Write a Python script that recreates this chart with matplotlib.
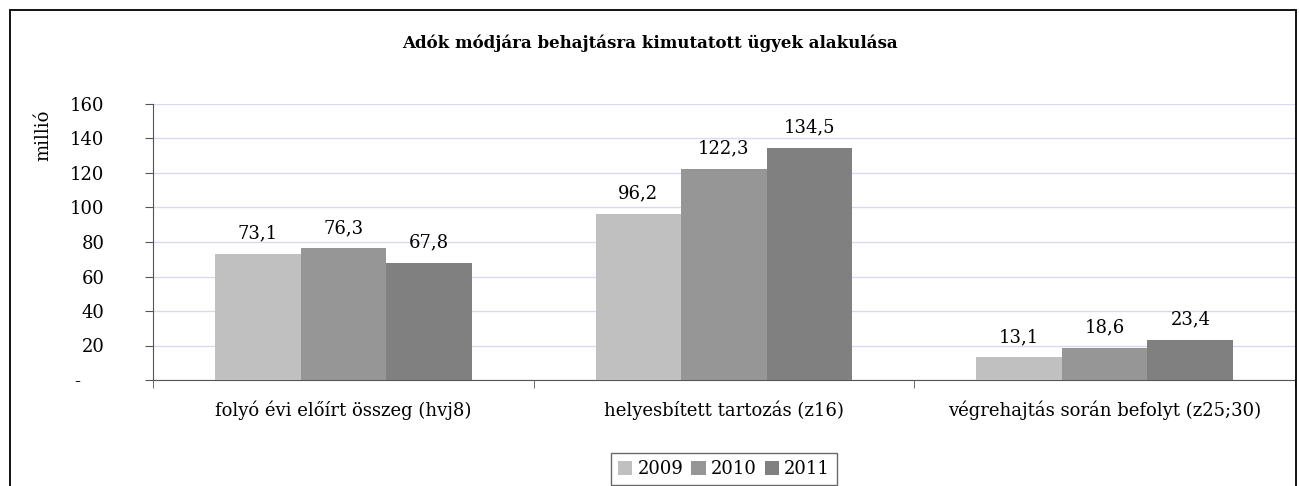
import matplotlib
matplotlib.use("Agg")
import matplotlib.pyplot as plt
import numpy as np
from matplotlib.patches import Rectangle

categories = ["folyó évi előírt összeg (hvj8)", "helyesbített tartozás (z16)", "végrehajtás során befolyt (z25;30)"]
years = ["2009", "2010", "2011"]
v2009 = [73.1, 96.2, 13.1]
v2010 = [76.3, 122.3, 18.6]
v2011 = [67.8, 134.5, 23.4]
series = [v2009, v2010, v2011]
colors = ["#c0c0c0", "#969696", "#808080"]
yticks = [0, 20, 40, 60, 80, 100, 120, 140, 160]
ytick_labels = ["-    ", "20", "40", "60", "80", "100", "120", "140", "160"]

plt.rcParams['font.family'] = ['DejaVu Serif']
FS = 13
W, H = 1299, 486
fig = plt.figure(figsize=(W/100, H/100), dpi=100)
fig.patch.set_facecolor("white")

# outer border
fig.patches.append(Rectangle((10/W, -0.01), 1286/W, 1 - 10/H + 0.01, transform=fig.transFigure,
                             fill=False, edgecolor="black", linewidth=1.3))

ax = fig.add_axes([153/W, 1 - 380/H, (1295-153)/W, (380-104)/H])
x = np.arange(len(categories))
bw = 0.225
for i, (vals, c, yr) in enumerate(zip(series, colors, years)):
    pos = x + (i - 1) * bw
    ax.bar(pos, vals, width=bw, color=c, label=yr, zorder=3)
    for xp, v in zip(pos, vals):
        ax.annotate(f"{v:.1f}".replace(".", ","), (xp, v), xytext=(0, 11), textcoords="offset points",
                    ha="center", va="baseline", fontsize=FS)

ax.set_xlim(-0.5, 2.5)
ax.set_ylim(0, 160)
ax.set_yticks(yticks)
ax.set_yticklabels(ytick_labels, fontsize=FS)
ax.yaxis.grid(True, color="#d8d8f0", linewidth=1, zorder=0)
ax.set_xticks(x)
ax.set_xticklabels(categories, fontsize=FS)
ax.tick_params(axis="x", length=0, pad=15)
ax.set_xticks([-0.5, 0.5, 1.5, 2.5], minor=True)
ax.tick_params(axis="x", which="minor", length=6, direction="out", color="#555555")
ax.tick_params(axis="y", length=6, direction="out", color="#555555", pad=29)
for s in ["top", "right"]:
    ax.spines[s].set_visible(False)
for s in ["left", "bottom"]:
    ax.spines[s].set_color("#555555")

fig.text(43/W, 1 - 135/H, "millió", rotation=90, ha="center", va="center", fontsize=FS)
fig.text(650/W, 1 - 43/H, "Adók módjára behajtásra kimutatott ügyek alakulása", ha="center", va="center",
         fontsize=12, fontweight="bold")

leg = fig.legend(loc="center", bbox_to_anchor=(724/W, 1 - 469/H), ncol=3, fontsize=FS, frameon=True,
                 fancybox=False, edgecolor="#444444", handlelength=0.78, handleheight=0.78,
                 handletextpad=0.28, columnspacing=0.45, borderpad=0.4, borderaxespad=0)
leg.get_frame().set_linewidth(1)

fig.savefig("out.png", dpi=100)
